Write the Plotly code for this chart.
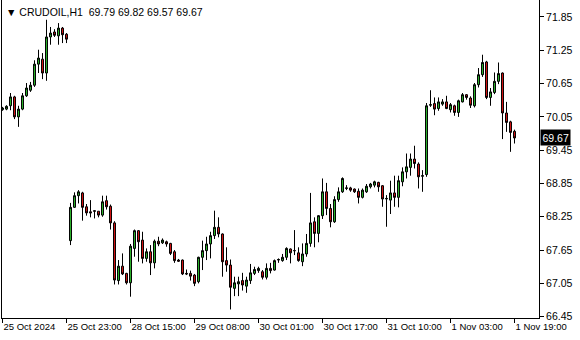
import plotly.graph_objects as go

symbol = "CRUDOIL,H1"
header_values = "69.79 69.82 69.57 69.67"

opens = [70.18, 70.19, 70.25, 70.41, 70.05, 70.19, 70.43, 70.53, 70.62, 71.00,
         71.09, 70.84, 71.49, 71.58, 71.51, 71.65, 71.54,
         67.82, 68.42, 68.63, 68.68, 68.43, 68.34, 68.36, 68.35, 68.28, 68.54,
         68.44, 68.14, 67.10, 67.36, 67.23, 67.06, 67.68, 68.00, 67.83, 67.50,
         67.62, 67.42, 67.81, 67.78, 67.80, 67.77, 67.62, 67.47, 67.47, 67.23,
         67.23, 67.20, 67.08, 67.52, 67.64, 67.76, 67.91, 68.06, 67.94, 67.46,
         67.38, 66.96, 67.04, 67.10, 67.00, 67.10, 67.23, 67.28, 67.26, 67.16,
         67.32, 67.29, 67.47, 67.46, 67.52, 67.67, 67.64, 67.60, 67.44, 67.58,
         67.77, 68.16, 67.95, 68.27, 68.70, 68.40, 68.16, 68.56, 68.70, 68.76,
         68.77, 68.75, 68.71, 68.60, 68.70, 68.79, 68.82, 68.87, 68.81, 68.57,
         68.55, 68.68, 68.60, 68.88, 69.06, 69.14, 69.29, 69.20, 68.98, 69.01,
         70.26, 70.29, 70.20, 70.28, 70.32, 70.18, 70.25, 70.13, 70.32, 70.45,
         70.39, 70.25, 70.63, 70.81, 71.04, 70.40, 70.49, 70.69, 70.84, 70.12,
         69.96, 69.79]
highs = [70.23, 70.26, 70.48, 70.43, 70.25, 70.48, 70.66, 70.68, 71.07, 71.26,
         71.20, 71.80, 71.67, 71.63, 71.74, 71.67, 71.56,
         68.50, 68.69, 68.73, 68.70, 68.48, 68.55, 68.37, 68.35, 68.63, 68.63,
         68.47, 68.17, 67.47, 67.59, 67.24, 67.76, 68.02, 68.01, 67.98, 67.68,
         67.74, 67.84, 67.89, 67.86, 67.82, 67.78, 67.65, 67.49, 67.48, 67.30,
         67.28, 67.22, 67.53, 67.82, 67.89, 67.98, 68.36, 68.24, 67.95, 67.70,
         67.48, 67.17, 67.17, 67.24, 67.17, 67.40, 67.35, 67.35, 67.29, 67.41,
         67.42, 67.48, 67.50, 67.58, 67.70, 67.68, 68.01, 67.70, 67.77, 67.94,
         68.68, 68.24, 68.28, 68.94, 68.86, 68.48, 68.62, 68.78, 68.96, 68.82,
         68.79, 68.76, 68.76, 68.76, 68.84, 68.86, 68.90, 68.88, 68.82, 68.64,
         68.90, 68.99, 68.99, 69.14, 69.39, 69.39, 69.53, 69.23, 69.09, 70.30,
         70.53, 70.40, 70.40, 70.37, 70.43, 70.30, 70.27, 70.36, 70.48, 70.46,
         70.42, 70.66, 70.93, 71.17, 71.06, 70.57, 70.85, 71.03, 70.85, 70.32,
         69.98, 69.82]
lows = [70.16, 70.17, 70.17, 70.01, 69.87, 70.17, 70.41, 70.50, 70.59, 70.84,
        70.73, 70.70, 71.35, 71.49, 71.35, 71.38, 71.38,
        67.74, 68.41, 68.49, 68.18, 68.27, 68.24, 68.22, 68.24, 68.25, 68.38,
        68.02, 67.03, 67.03, 67.20, 67.03, 66.81, 67.53, 67.44, 67.41, 67.44,
        67.20, 67.32, 67.72, 67.76, 67.71, 67.56, 67.42, 67.44, 67.20, 67.20,
        67.10, 67.00, 67.05, 67.29, 67.47, 67.50, 67.85, 67.88, 67.17, 67.26,
        66.58, 66.82, 66.82, 66.92, 66.88, 67.04, 67.20, 67.24, 67.12, 67.12,
        67.23, 67.28, 67.42, 67.44, 67.47, 67.41, 67.56, 67.44, 67.36, 67.53,
        67.71, 67.70, 67.79, 68.21, 68.28, 68.06, 68.14, 68.52, 68.68, 68.73,
        68.70, 68.68, 68.49, 68.58, 68.68, 68.76, 68.78, 68.70, 68.43, 68.07,
        68.30, 68.43, 68.42, 68.80, 68.94, 68.99, 69.12, 68.76, 68.70, 68.97,
        70.23, 70.08, 70.16, 70.25, 70.19, 70.13, 70.07, 70.05, 70.31, 70.36,
        70.21, 70.22, 70.58, 70.77, 70.37, 70.25, 70.46, 70.64, 69.65, 69.78,
        69.42, 69.57]
closes = [70.21, 70.24, 70.41, 70.05, 70.19, 70.43, 70.57, 70.62, 71.00, 71.11,
          70.84, 71.49, 71.56, 71.52, 71.65, 71.53, 71.45,
          68.42, 68.63, 68.70, 68.42, 68.32, 68.32, 68.35, 68.28, 68.52, 68.43,
          68.14, 67.11, 67.36, 67.22, 67.06, 67.72, 68.00, 67.80, 67.50, 67.62,
          67.42, 67.81, 67.76, 67.83, 67.76, 67.59, 67.46, 67.45, 67.22, 67.22,
          67.18, 67.05, 67.52, 67.64, 67.76, 67.91, 68.06, 67.94, 67.44, 67.38,
          66.98, 67.06, 67.08, 67.02, 67.11, 67.24, 67.30, 67.32, 67.16, 67.32,
          67.28, 67.46, 67.48, 67.52, 67.68, 67.60, 67.64, 67.46, 67.58, 67.77,
          68.14, 67.95, 68.27, 68.70, 68.40, 68.16, 68.56, 68.70, 68.94, 68.77,
          68.73, 68.70, 68.60, 68.73, 68.80, 68.84, 68.88, 68.79, 68.57, 68.58,
          68.68, 68.60, 68.90, 69.06, 69.15, 69.29, 69.21, 68.97, 68.99, 70.25,
          70.27, 70.19, 70.32, 70.32, 70.20, 70.27, 70.13, 70.34, 70.45, 70.40,
          70.26, 70.63, 70.81, 71.03, 70.40, 70.50, 70.69, 70.83, 70.12, 69.95,
          69.77, 69.67]

time_labels = ["25 Oct 2024", "25 Oct 23:00", "28 Oct 15:00", "29 Oct 08:00",
               "30 Oct 01:00", "30 Oct 17:00", "31 Oct 10:00", "1 Nov 03:00",
               "1 Nov 19:00"]
label_step = 16
price_ticks = [71.85, 71.25, 70.65, 70.05, 69.45, 68.85, 68.25, 67.65, 67.05, 66.45]
last_price = 69.67

bars = list(range(len(opens)))
tick_pos = [i * label_step for i in range(len(time_labels))]

FONT = "Liberation Sans"

fig = go.Figure(go.Candlestick(
    x=bars, open=opens, high=highs, low=lows, close=closes,
    increasing=dict(fillcolor="#2DB82D", line=dict(color="black", width=1)),
    decreasing=dict(fillcolor="#D81414", line=dict(color="black", width=1)),
    whiskerwidth=0,
    hoverinfo="skip",
))

fig.update_layout(
    width=580, height=340,
    margin=dict(l=2, r=41, t=0, b=22, autoexpand=False),
    paper_bgcolor="white", plot_bgcolor="white",
    showlegend=False,
    font=dict(family=FONT, size=10, color="black"),
    xaxis=dict(
        range=[-0.125, 134.125], rangeslider=dict(visible=False),
        showgrid=False, zeroline=False, automargin=False,
        showline=True, mirror=True, linecolor="black", linewidth=1,
        tickmode="array", tickvals=tick_pos, ticktext=time_labels,
        ticks="outside", ticklen=4, tickcolor="black", tickangle=0,
        ticklabelposition="outside right",
        tickfont=dict(family=FONT, size=9.5, color="black"),
    ),
    yaxis=dict(
        range=[66.426, 72.156], side="right",
        showgrid=False, zeroline=False, automargin=False,
        showline=True, mirror=True, linecolor="black", linewidth=1,
        tickmode="array", tickvals=price_ticks,
        ticktext=[f"{v:.2f}" for v in price_ticks],
        ticks="outside", ticklen=4, tickcolor="black",
        tickfont=dict(family=FONT, size=10.5, color="black"),
    ),
    annotations=[
        dict(xref="paper", yref="paper", x=0, y=1, xanchor="left", yanchor="top",
             xshift=2, yshift=-4, showarrow=False,
             text=f"▼ {symbol}&nbsp;&nbsp;{header_values}",
             font=dict(family=FONT, size=10.5, color="black")),
        dict(xref="paper", yref="y", x=1, y=last_price, xanchor="left",
             yanchor="middle", xshift=1, showarrow=False,
             text=f"{last_price:.2f}", bgcolor="black",
             font=dict(family=FONT, size=10.5, color="white"), borderpad=1.5),
    ],
)

fig.write_html("out.html")
